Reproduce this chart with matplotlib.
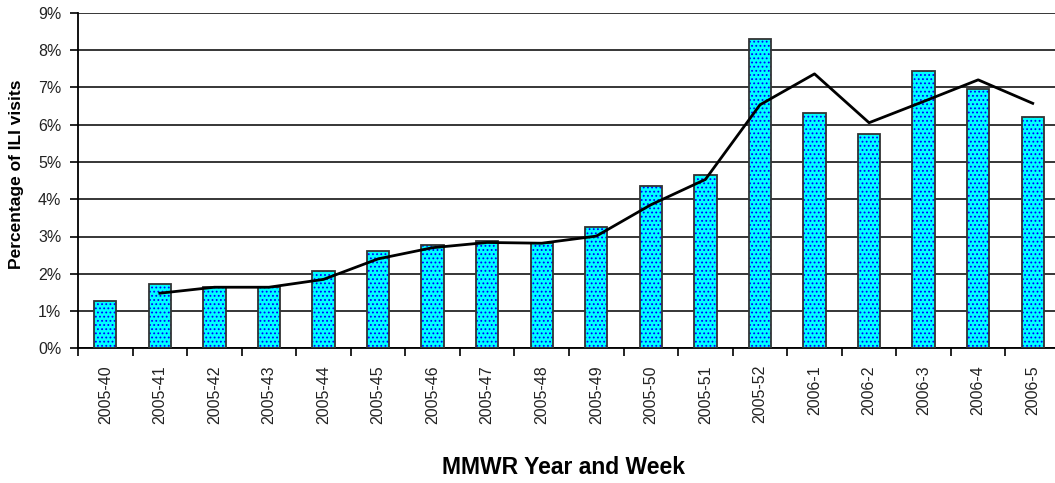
import matplotlib
matplotlib.use("Agg")
import matplotlib.pyplot as plt
import numpy as np

plt.rcParams['font.family'] = ['Liberation Sans', 'DejaVu Sans']
plt.rcParams['hatch.linewidth'] = 0.8

weeks = ['2005-40', '2005-41', '2005-42', '2005-43', '2005-44', '2005-45', '2005-46',
         '2005-47', '2005-48', '2005-49', '2005-50', '2005-51', '2005-52',
         '2006-1', '2006-2', '2006-3', '2006-4', '2006-5']
ili_pct = [1.28, 1.73, 1.64, 1.64, 2.07, 2.61, 2.77, 2.89, 2.82, 3.25, 4.36, 4.65,
           8.30, 6.32, 5.75, 7.43, 6.96, 6.20]
trend_pct = [np.nan, 1.48, 1.64, 1.64, 1.85, 2.40, 2.70, 2.84, 2.82, 3.01, 3.85, 4.53,
             6.53, 7.36, 6.05, 6.62, 7.20, 6.57]
yticks = [0, 1, 2, 3, 4, 5, 6, 7, 8, 9]
ytick_labels = ['0%', '1%', '2%', '3%', '4%', '5%', '6%', '7%', '8%', '9%']

W, H = 1055, 483
fig = plt.figure(figsize=(W / 100, H / 100), dpi=100)
left, right, top, bottom = 78, 1060, 12.7, 348.4
ax = fig.add_axes([left / W, 1 - bottom / H, (right - left) / W, (bottom - top) / H])

x = np.arange(len(weeks))
ax.set_axisbelow(True)
ax.yaxis.grid(True, color='black', linewidth=1.1)
ax.bar(x, ili_pct, width=0.41, color='#00FFFF', edgecolor='#0000FF', hatch='....',
       linewidth=0, zorder=2)
ax.bar(x, ili_pct, width=0.41, fill=False, edgecolor='#333333', linewidth=1.3, zorder=3)
ax.plot(x, trend_pct, color='black', linewidth=2.0, zorder=4)

ax.set_xlim(-0.5, len(weeks) - 0.5)
ax.set_ylim(0, 9)
ax.set_yticks(yticks)
ax.set_yticklabels(ytick_labels, fontsize=11.5, color='#222222')
ax.set_xticks(x)
ax.set_xticklabels(weeks, rotation=90, fontsize=11.5, color='#222222')
ax.tick_params(axis='x', length=0, pad=12)
ax.set_xticks(np.arange(-0.5, len(weeks), 1), minor=True)
ax.tick_params(axis='x', which='minor', length=6, width=1.2, direction='out')
ax.tick_params(axis='y', length=6, width=1.2, direction='out', pad=6)

for s in ['top', 'right']:
    ax.spines[s].set_visible(False)
for s in ['left', 'bottom']:
    ax.spines[s].set_linewidth(1.3)
    ax.spines[s].set_color('black')

fig.text(563 / W, 1 - 467 / H, 'MMWR Year and Week', ha='center', va='center',
         fontsize=16.5, fontweight='bold')
fig.text(17 / W, 1 - 174 / H, 'Percentage of ILI visits', ha='center', va='center',
         rotation=90, fontsize=12.5, fontweight='bold')

fig.savefig('out.png', dpi=100)
